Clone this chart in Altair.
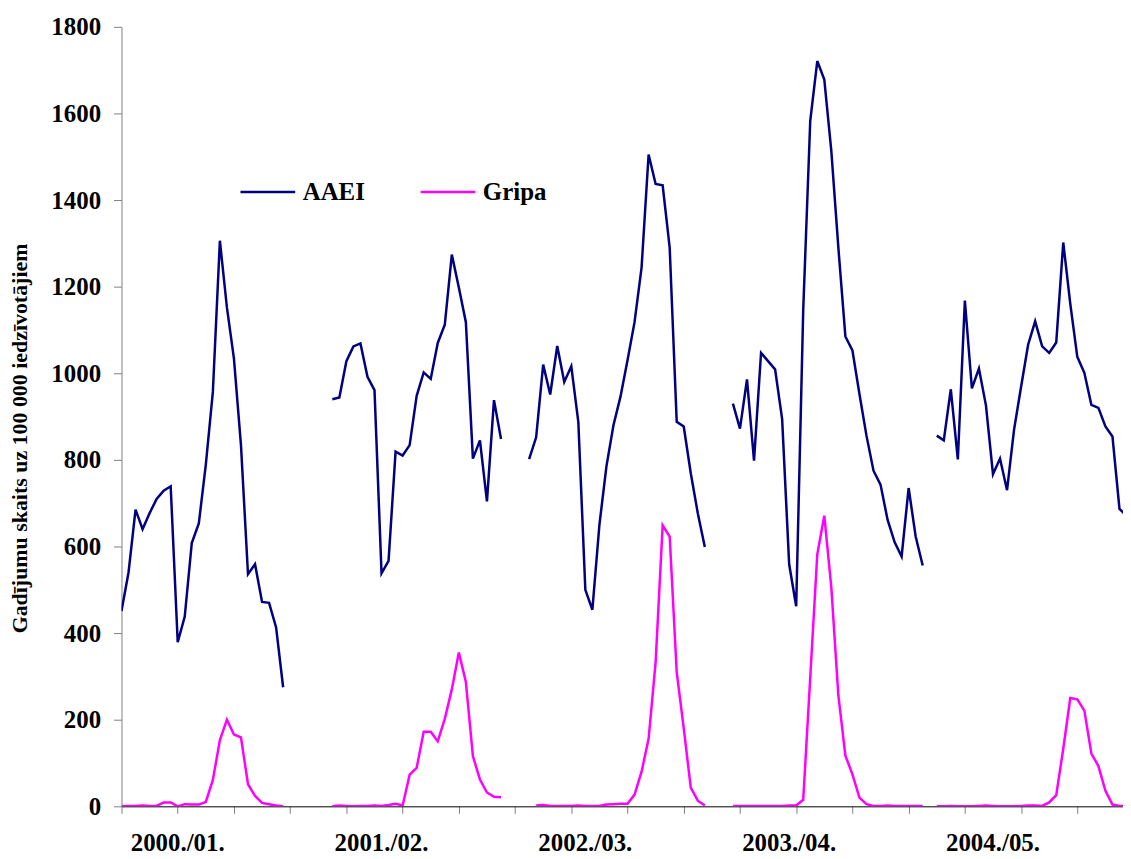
import altair as alt
import pandas as pd

# ---- data (weekly incidence per 100 000 inhabitants) ----
season_labels = ["2000./01.", "2001./02.", "2002./03.", "2003./04.", "2004./05."]
label_pos = [8, 37, 66, 95, 124]

aaei_start = [0, 30, 58, 87, 116]
gripa_start = [0, 30, 59, 87, 116]

aaei_2000 = [451, 540, 685, 640, 677, 710, 729, 739, 379, 438, 608, 653, 789, 957, 1306, 1152,
             1034, 834, 536, 559, 472, 470, 413, 275]
aaei_2001 = [940, 944, 1028, 1062, 1069, 992, 961, 538, 567, 819, 810, 834, 948, 1002, 987, 1070,
             1112, 1274, 1198, 1118, 803, 845, 704, 938, 848]
aaei_2002 = [802, 852, 1020, 951, 1063, 980, 1016, 888, 500, 454, 650, 785, 880, 946, 1030, 1118,
             1244, 1505, 1437, 1434, 1290, 888, 877, 769, 677, 599]
aaei_2003 = [930, 872, 986, 798, 1047, 1028, 1009, 894, 559, 462, 1146, 1583, 1721, 1678, 1513, 1290,
             1085, 1053, 952, 856, 775, 743, 662, 610, 577, 735, 623, 556]
aaei_2004 = [856, 845, 963, 801, 1168, 965, 1011, 926, 767, 803, 730, 870, 969, 1066, 1120, 1062,
             1047, 1071, 1302, 1160, 1038, 1001, 927, 920, 877, 854, 687, 671]

gripa_2000 = [0, 1, 1, 2, 1, 1, 9, 9, 0, 5, 4, 4, 10, 61, 153, 200, 166, 159, 51, 24, 8, 5, 2, 0]
gripa_2001 = [0, 2, 1, 0, 1, 1, 2, 1, 3, 6, 2, 73, 89, 172, 172, 150, 202, 270, 355, 287, 116, 62,
              32, 22, 21]
gripa_2002 = [2, 3, 1, 1, 1, 1, 2, 1, 1, 1, 4, 5, 6, 6, 27, 80, 156, 333, 649, 623, 310, 180, 43, 13, 2]
gripa_2003 = [1, 1, 1, 1, 1, 1, 1, 1, 2, 2, 15, 298, 582, 671, 505, 256, 117, 74, 20, 5, 1, 1, 2, 1,
              1, 1, 1, 1]
gripa_2004 = [0, 0, 1, 0, 0, 0, 1, 2, 1, 0, 0, 0, 1, 2, 2, 1, 9, 26, 133, 250, 247, 221, 122, 93, 36,
              4, 1, 0]

aaei = [aaei_2000, aaei_2001, aaei_2002, aaei_2003, aaei_2004]
gripa = [gripa_2000, gripa_2001, gripa_2002, gripa_2003, gripa_2004]

rows = []
for s, st, vals in zip(season_labels, aaei_start, aaei):
    for k, v in enumerate(vals):
        rows.append({"idx": st + k, "value": v, "series": "AAEI", "season": s})
for s, st, vals in zip(season_labels, gripa_start, gripa):
    for k, v in enumerate(vals):
        rows.append({"idx": st + k, "value": v, "series": "Gripa", "season": s})
df = pd.DataFrame(rows)
labels_df = pd.DataFrame({"idx": label_pos, "label": season_labels})

FONT = "Liberation Serif"

xscale = alt.Scale(domain=[0, 142.5], nice=False, zero=False)

lines = alt.Chart(df).mark_line(clip=True, strokeWidth=2.5).encode(
    x=alt.X("idx:Q", scale=xscale,
            axis=alt.Axis(values=list(range(0, 143)), labels=False, title=None, grid=False,
                          domainColor="black", domainWidth=1, tickColor="#808080",
                          tickSize=7, tickWidth=1)),
    y=alt.Y("value:Q", scale=alt.Scale(domain=[0, 1800], nice=False),
            axis=alt.Axis(values=list(range(0, 1801, 200)), grid=False, format="d",
                          title="Gadījumu skaits uz 100 000 iedzīvotājiem",
                          titleFont=FONT, titleFontSize=22, titleFontWeight="bold",
                          titleColor="black", titleAngle=270, titleX=-102, titleY=413,
                          titleAlign="center", titleBaseline="middle",
                          labelFont=FONT, labelFontSize=25, labelFontWeight="bold",
                          labelColor="black", labelPadding=13, tickSize=8,
                          tickColor="#808080", domainColor="#808080")),
    color=alt.Color("series:N",
                    scale=alt.Scale(domain=["AAEI", "Gripa"], range=["#000080", "#FF00FF"]),
                    legend=alt.Legend(title=None, orient="none", legendX=118, legendY=137,
                                      direction="horizontal", symbolType="stroke",
                                      symbolSize=3025, symbolStrokeWidth=2.5,
                                      labelFont=FONT, labelFontSize=25, labelFontWeight="bold",
                                      labelColor="black", labelOffset=6, columnPadding=50,
                                      padding=0, labelLimit=300)),
    detail="season:N",
    order="idx:Q",
)

texts = alt.Chart(labels_df).mark_text(
    font=FONT, fontSize=25, fontWeight="bold", color="black", baseline="middle", align="center"
).encode(
    x=alt.X("idx:Q", scale=xscale),
    y=alt.value(820),
    text="label:N",
)

chart = alt.layer(lines, texts).properties(
    width=1006, height=783,
    autosize=alt.AutoSizeParams(type="none"),
    padding={"left": 114, "top": 17, "right": 0, "bottom": 50},
).configure_view(stroke=None)

chart.save("out.html", embed_options={"renderer": "svg", "actions": False})
